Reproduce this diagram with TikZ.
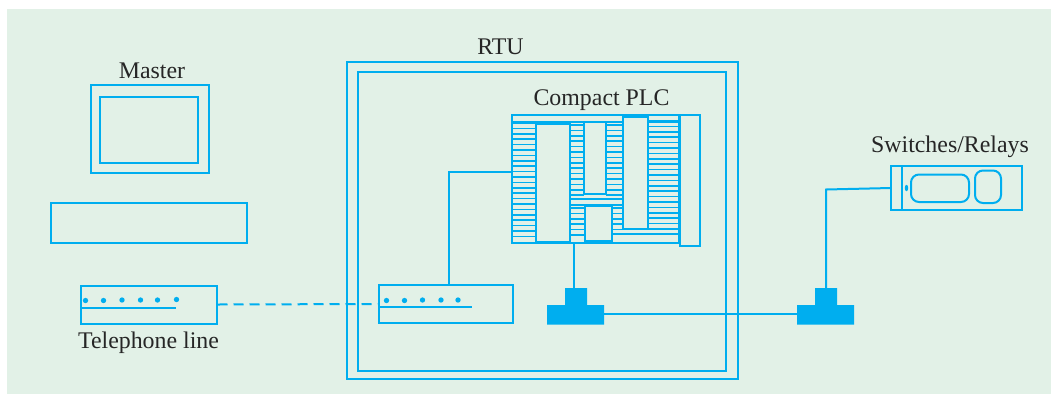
\documentclass[tikz,border=0pt]{standalone}
\usepackage{fontspec}
\setmainfont{Liberation Serif}
\definecolor{panel}{HTML}{E2F1E7}
\definecolor{cy}{HTML}{00AEEF}
\tikzset{x=0.75pt,y=-0.75pt,
 ln/.style={draw=cy,line width=1.5pt},
 fine/.style={draw=cy,line width=1.15pt},
 lab/.style={text=black!85,font=\fontsize{17.9}{20}\selectfont,inner sep=0pt},
 led/.style={circle,fill=cy,minimum size=4pt,inner sep=0pt},
 box/.style={ln,fill=panel}}
\begin{document}
\begin{tikzpicture}
\useasboundingbox (0,0) rectangle (1051,394);
\fill[panel] (7,9) rectangle (1051,394);
% master
\node[lab] (tMaster) at (152,71) {Master};
\draw[ln] (91,85) rectangle (209,173);
\draw[ln] (100,97) rectangle (198,163);
\draw[ln] (51,203) rectangle (247,243);
% modem left
\node[draw=cy,line width=1.5pt,minimum width=102pt,minimum height=28.5pt,inner sep=0pt] (modemA) at (148.5,304.5) {};
\draw[fine] (82,308) -- (176,308);
\foreach \x/\y in {85.5/300.5,103.5/300.5,122/300,140.5/300,157.5/300,176.5/299.5}
  \node[led] at (\x,\y) {};
\node[lab] (tTel) at (148.5,342.5) {Telephone line};
% RTU
\node[lab] (tRTU) at (500.5,47) {RTU};
\draw[ln] (346.5,62) rectangle (737.5,379);
\draw[ln] (358,72) rectangle (726,371);
% modem right
\node[draw=cy,line width=1.5pt,minimum width=100.5pt,minimum height=28.5pt,inner sep=0pt] (modemB) at (445.5,304) {};
\draw[fine] (380,307) -- (472,307);
\foreach \x/\y in {386.5/300.5,404.5/300.5,422.5/300,441/300,458/300}
  \node[led] at (\x,\y) {};
\draw[ln,dash pattern=on 7.5pt off 4.5pt] (modemA.east) -- (modemB.west);
% PLC
\node[lab] (tPLC) at (601.5,100.5) {Compact PLC};
\coordinate (plcL) at (511.5,172);
\coordinate (plcB) at (574,242.5);
\draw[ln] (511.5,115) rectangle (679,242.5);
\draw[fine] (511.5,122) -- (679,122);
% hatching
\foreach \i in {0,...,21} {\pgfmathsetmacro\yy{123+5.4*\i}\draw[fine] (511.5,\yy) -- (536,\yy);}
\foreach \i in {0,...,13} {\pgfmathsetmacro\yy{125+5.4*\i}\draw[fine] (570,\yy) -- (584,\yy);}
\foreach \i in {0,...,13} {\pgfmathsetmacro\yy{125+5.4*\i}\draw[fine] (606,\yy) -- (623,\yy);}
\draw[fine] (570,199) -- (623,199);
\draw[fine] (570,205) -- (623,205);
\foreach \i in {0,...,5} {\pgfmathsetmacro\yy{208+5.4*\i}\draw[fine] (570,\yy) -- (584,\yy);}
\foreach \i in {0,...,4} {\pgfmathsetmacro\yy{208+5.4*\i}\draw[fine] (612,\yy) -- (623,\yy);}
\draw[fine] (612,234) -- (679,234);
\foreach \i in {0,...,20} {\pgfmathsetmacro\yy{121+5.4*\i}\draw[fine] (648,\yy) -- (679,\yy);}
\draw[box] (536,124) rectangle (570,241.5);
\draw[box] (584,122) rectangle (606,194);
\draw[box] (623,117) rectangle (648,229);
\draw[box] (584.5,205.5) rectangle (612,241);
\draw[box] (679.5,115) rectangle (700,246);
\coordinate (wireA) at (448.5,172);
% switches
\node[lab] (tSw) at (950,146.5) {Switches/Relays};
\draw[ln] (891,165.5) rectangle (1022,209.5);
\draw[ln] (902,165.5) -- (902,209.5);
\draw[ln,rounded corners=6pt] (911,174.5) rectangle (969,202);
\draw[ln,rounded corners=6pt] (975,170.5) rectangle (1001,203);
\fill[cy] (906.5,188) ellipse (1.3pt and 2.4pt);
% T blocks
\path[fill=cy] (547,305) -- (565,305) -- (565,288) -- (587,288) -- (587,305) -- (604,305) -- (604,324.5) -- (547,324.5) -- cycle;
\path[fill=cy] (797,305) -- (815,305) -- (815,288) -- (837,288) -- (837,305) -- (854,305) -- (854,324.5) -- (797,324.5) -- cycle;
\coordinate (tA) at (574,288);
\coordinate (tAr) at (604,314);
\coordinate (tBl) at (797,314);
\coordinate (tBt) at (826,288);
\coordinate (swIn) at (891,188);
% wires
\draw[ln] (plcL) -- (wireA) -- (448.5,285);
\draw[ln] (plcB) -- (tA);
\draw[ln] (tAr) -- (tBl);
\draw[ln] (tBt) -- (826,189.5) -- (swIn);
\end{tikzpicture}
\end{document}
